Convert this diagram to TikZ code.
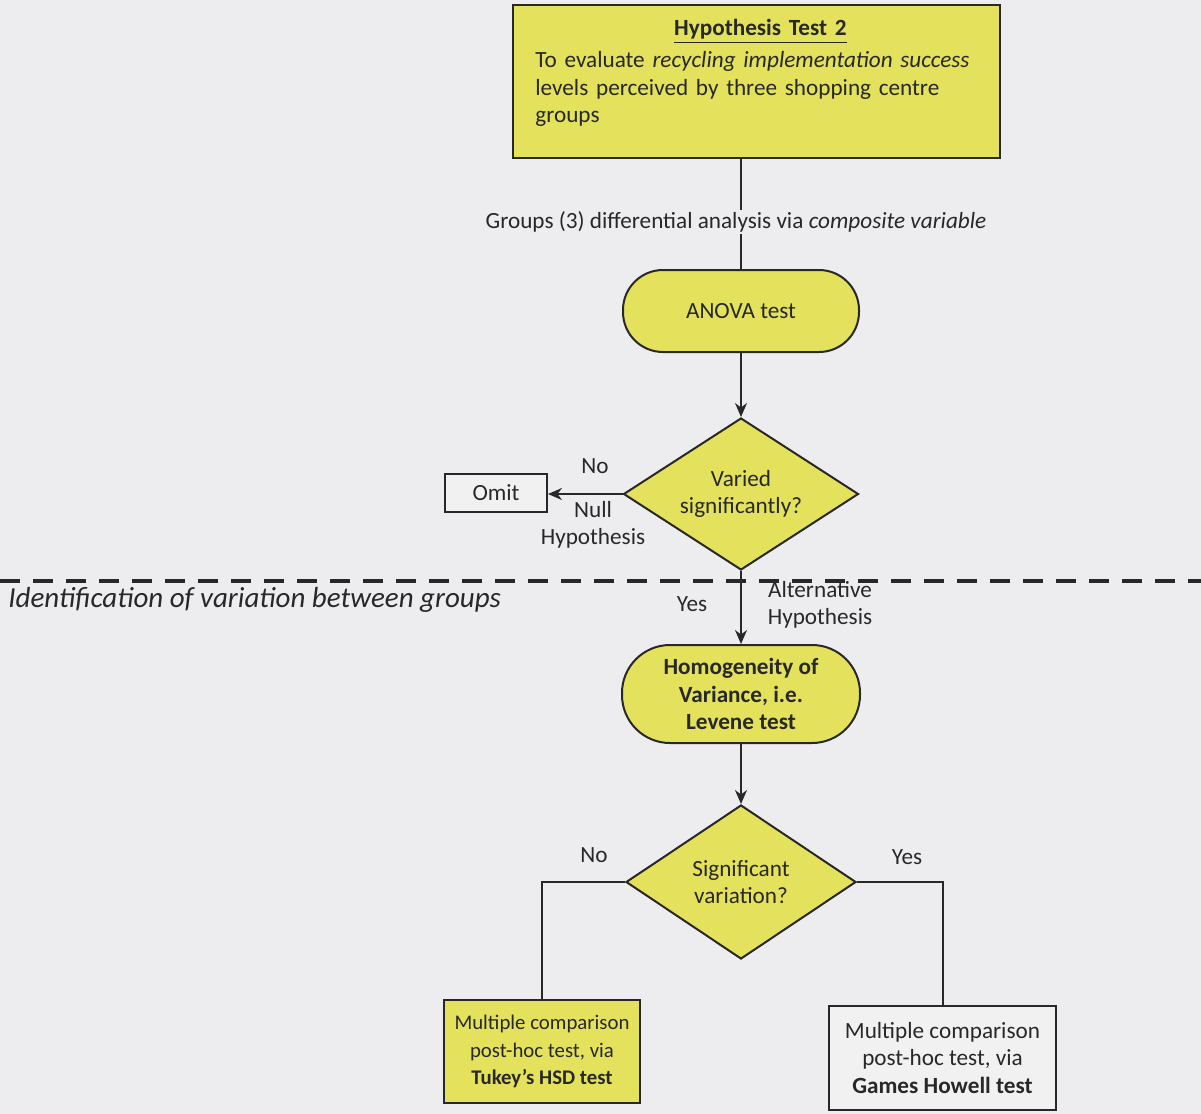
\documentclass[tikz,border=0pt]{standalone}
\usepackage{fontspec}
\setmainfont{Carlito}
\usetikzlibrary{shapes.geometric,arrows.meta}
\definecolor{bg}{RGB}{237,237,240}
\definecolor{ylw}{RGB}{228,226,92}
\definecolor{ink}{RGB}{40,40,40}
\definecolor{pale}{RGB}{241,241,242}
\begin{document}
\begin{tikzpicture}[x=0.5pt,y=-0.5pt,
  font=\fontsize{11.6}{13.6}\selectfont, text=ink,
  box/.style={draw=ink, line width=1pt, inner sep=0pt, align=center},
  ybox/.style={box, fill=ylw},
  pbox/.style={box, fill=pale},
  stadium/.style={box, fill=ylw},
  decision/.style={box, fill=ylw, shape=diamond, aspect=1.55},
  conn/.style={draw=ink, line width=1pt},
  arr/.style={conn, -{Stealth[length=7pt,width=6pt]}},
  lbl/.style={inner sep=1pt, align=center}]
\fill[bg] (0,0) rectangle (1201,1114);
\useasboundingbox (0,0) rectangle (1201,1114);

% top box
\node[ybox, minimum width=243.5pt, minimum height=76.5pt] (top) at (756,81.5) {};
\node[anchor=north west, text width=225pt, align=left, inner sep=0pt] (toptext) at (535,19)
 {\centerline{\textbf{\underline{Hypothesis Test 2}}}\\[2.5pt]
  To evaluate \textit{recycling implementation success}\\
  levels perceived by three shopping centre\\
  groups};

% ANOVA
\node[stadium, rounded corners=20pt, minimum width=118pt, minimum height=41pt] (anova) at (741,311) {ANOVA test};
\draw[conn] (anova.north |- top.south) -- (anova.north);
\node[lbl, fill=bg] (grp) at (736,222) {Groups (3) differential analysis via \textit{composite variable}};

% decision 1
\node[decision, minimum width=117.5pt, minimum height=76pt] (d1) at (741,494) {Varied\\significantly?};
\draw[arr] (anova.south) -- (d1.north);

\node[pbox, minimum width=51pt, minimum height=19pt] (omit) at (496,493) {Omit};
\draw[arr] (d1.west) -- (d1.west -| omit.east);
\node[lbl] (no1) at (595,466) {No};
\node[lbl] (null) at (593,525) {Null\\Hypothesis};

% dashed divider
\coordinate (dl) at (0,581);
\coordinate (dr) at (1201,581);
\draw[draw=ink, line width=2pt, dash pattern=on 10pt off 6.5pt] (dl) -- (dr);
\node[anchor=west, inner sep=0pt, font=\fontsize{14.5}{16}\selectfont\itshape] (ident) at (8,600) {Identification of variation between groups};

% homogeneity
\node[stadium, rounded corners=24pt, minimum width=119pt, minimum height=49pt] (homog) at (741,694)
 {\textbf{Homogeneity of}\\\textbf{Variance, i.e.}\\\textbf{Levene test}};
\draw[arr] (d1.south) -- (homog.north);
\node[lbl] (yes1) at (692,604) {Yes};
\node[lbl] (alt) at (820,605) {Alternative\\Hypothesis};

% decision 2
\node[decision, minimum width=115pt, minimum height=77pt] (d2) at (741,882) {Significant\\variation?};
\draw[arr] (homog.south) -- (d2.north);
\node[lbl] (no2) at (594,855) {No};
\node[lbl] (yes2) at (907,857) {Yes};

% outcome boxes
\node[ybox, minimum width=98pt, minimum height=51.5pt, font=\fontsize{10.4}{13.6}\selectfont] (tukey) at (542,1051.5)
 {Multiple comparison\\post-hoc test, via\\\textbf{Tukey's HSD test}};
\node[pbox, minimum width=113.5pt, minimum height=52pt] (games) at (942.5,1058)
 {Multiple comparison\\post-hoc test, via\\\textbf{Games Howell test}};
\draw[conn] (d2.west) -| (tukey.north);
\draw[conn] (d2.east) -| (games.north);
\end{tikzpicture}
\end{document}
